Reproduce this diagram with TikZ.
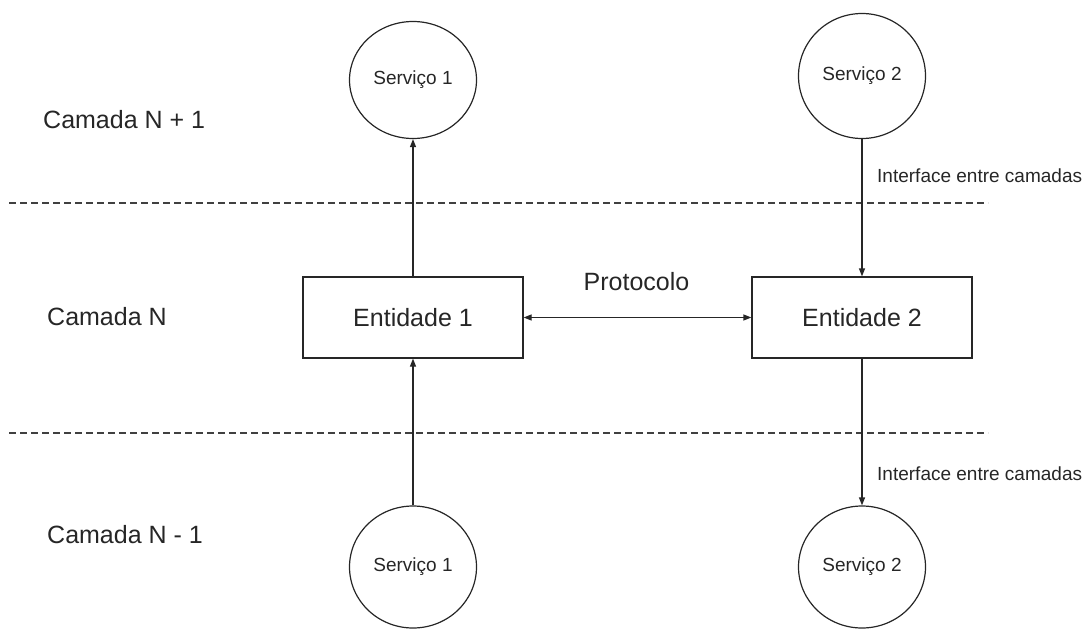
\documentclass[tikz,border=0pt]{standalone}
\usepackage{fontspec}
\setmainfont{Liberation Sans}
\usetikzlibrary{arrows.meta,shapes.geometric}
\begin{document}
\begin{tikzpicture}[x=1pt,y=-1pt,
  ink/.style={draw=black!85, line width=1.2pt},
  entbox/.style={ink, rectangle, minimum width=220pt, minimum height=81pt,
    inner sep=0pt, text=black!85, font=\fontsize{25}{30}\selectfont},
  svc/.style={ink, ellipse, inner sep=0pt, text=black!85,
    font=\fontsize{19}{23}\selectfont},
  layer/.style={anchor=base west, inner sep=0pt, text=black!85,
    font=\fontsize{25}{30}\selectfont},
  note/.style={anchor=base west, inner sep=0pt, text=black!85,
    font=\fontsize{19}{23}\selectfont},
  link/.style={ink, -{Triangle[length=8pt,width=6pt]}},
  biglink/.style={ink, {Triangle[length=8pt,width=6pt]}-{Triangle[length=8pt,width=6pt]}},
  sep/.style={draw=black!75, line width=1.2pt, dash pattern=on 7pt off 4pt}]
\useasboundingbox (0,0) rectangle (1086,629);

% layer separators
\draw[sep] (9,203) -- (988,203);
\draw[sep] (9,433) -- (988,433);

% layer names
\node[layer] (lup)  at (43,128) {Camada N + 1};
\node[layer] (lmid) at (47,325) {Camada N};
\node[layer] (ldn)  at (47,543) {Camada N - 1};

% entities of layer N
\node[entbox] (e1) at (413,317.5) {Entidade 1};
\node[entbox] (e2) at (862,317.5) {Entidade 2};

% services of the neighbouring layers
\node[svc, minimum width=127pt, minimum height=117pt] (s1up) at (413,80) {Serviço 1};
\node[svc, minimum width=127pt, minimum height=125pt] (s2up) at (862,76) {Serviço 2};
\node[svc, minimum width=127pt, minimum height=122pt] (s1dn) at (413,567) {Serviço 1};
\node[svc, minimum width=127pt, minimum height=122pt] (s2dn) at (862,567) {Serviço 2};

% connectors
\draw[link] (e1.north) -- (s1up.south);
\draw[link] (s1dn.north) -- (e1.south);
\draw[link] (s2up.south) -- (e2.north);
\draw[link] (e2.south) -- (s2dn.north);
\draw[biglink] (e1.east) -- (e2.west);

% labels
\node[anchor=base, inner sep=0pt, text=black!85, font=\fontsize{25}{30}\selectfont]
  (proto) at (636.5,290) {Protocolo};
\node[note] (if1) at (877,182) {Interface entre camadas};
\node[note] (if2) at (877,480) {Interface entre camadas};
\end{tikzpicture}
\end{document}
